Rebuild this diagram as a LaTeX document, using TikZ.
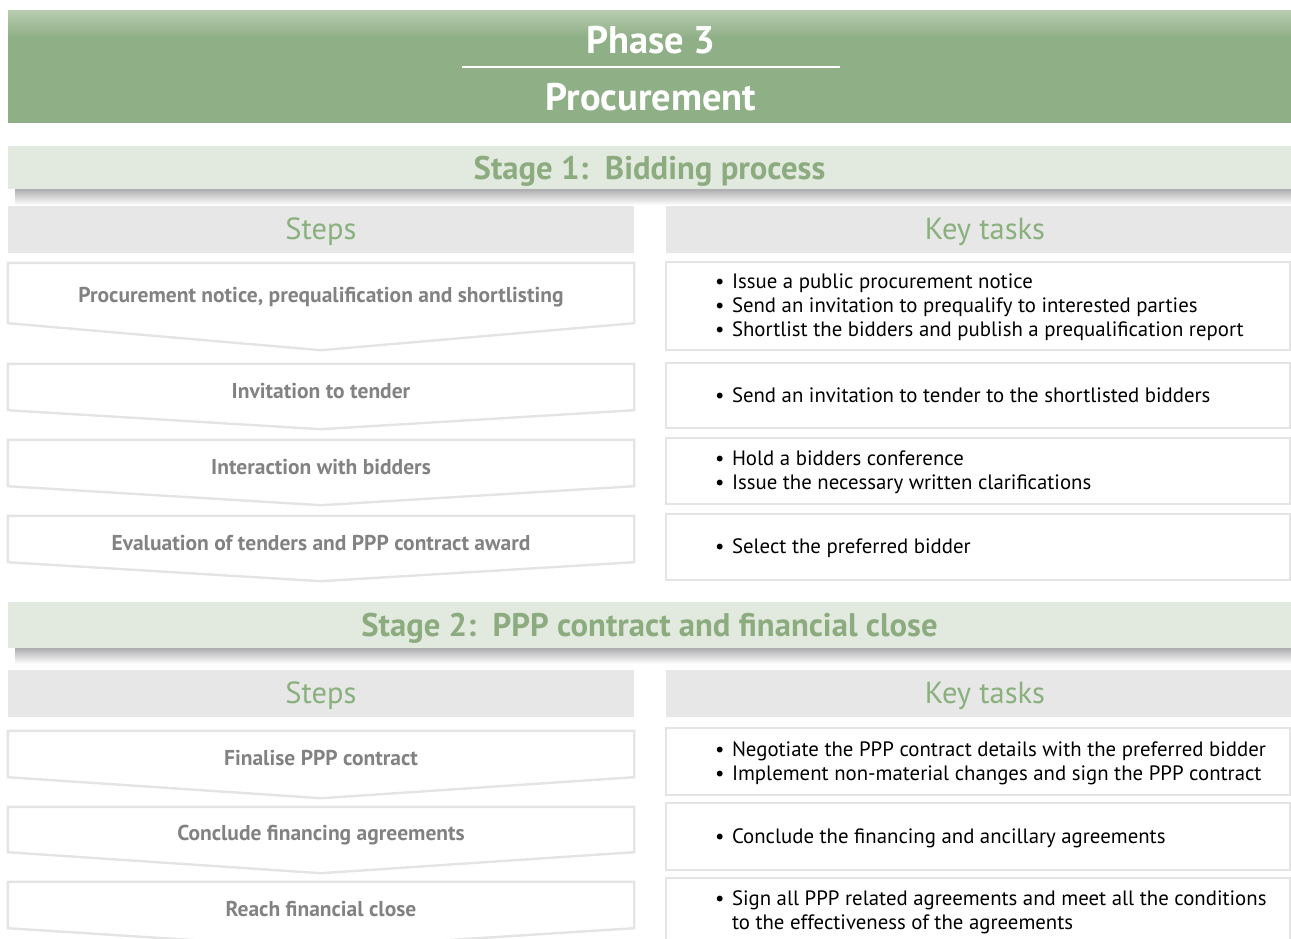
\documentclass[tikz,border=0pt]{standalone}
\usepackage{fontspec}
\setmainfont{PT Sans}
\usetikzlibrary{calc}

\definecolor{phasegreen}{RGB}{143,175,134}
\definecolor{phaselight}{RGB}{184,204,176}
\definecolor{stagefill}{RGB}{226,234,223}
\definecolor{stagetext}{RGB}{140,172,128}
\definecolor{headfill}{RGB}{231,231,231}
\definecolor{headtext}{RGB}{137,176,125}
\definecolor{steptext}{RGB}{130,130,130}
\definecolor{boxline}{RGB}{228,228,228}
\definecolor{shadowgray}{RGB}{168,168,170}

\newcommand\itm{\makebox[17pt][l]{\textbullet}}

\begin{document}
\begin{tikzpicture}[x=1pt, y=-1pt,
    phasetext/.style={text=white, font=\fontsize{38.5}{44}\selectfont\bfseries},
    stageband/.style={fill=stagefill, minimum width=1283pt, minimum height=43pt,
      text height=27pt, text depth=3pt,
      text=stagetext, font=\fontsize{32.7}{38}\selectfont\bfseries},
    colhead/.style={fill=headfill, minimum width=626pt, minimum height=47pt,
      text height=22pt, text depth=3pt,
      text=headtext, font=\fontsize{30.5}{36}\selectfont},
    stepbox/.style={minimum width=626pt, text=steptext,
      text height=26pt, text depth=4pt,
      font=\fontsize{21.5}{26}\selectfont\bfseries},
    stepline/.style={draw=boxline, line width=2.4pt, line join=miter},
    taskbox/.style={draw=boxline, line width=2.4pt, minimum width=624pt},
    tasktext/.style={anchor=west, xshift=50pt, yshift=-2pt, align=left, inner sep=0pt,
      text depth=5pt, font=\fontsize{20.8}{24}\selectfont}]

  \useasboundingbox (0,0) rectangle (1291,938);

  % phase header
  \shade[top color=phaselight, bottom color=phasegreen] (8,10) rectangle (1291,38);
  \fill[phasegreen] (8,37) rectangle (1291,123);
  \node[phasetext] (phase) at (651,40) {Phase 3};
  \node[phasetext] (proc) at (651,97) {Procurement};
  \draw[white, line width=1.3pt] (462,67) -- (840,67);

  % stage 1
  \shade[top color=shadowgray, bottom color=white] (15,188) rectangle (1291,205);
  \node[stageband] (stage1) at (649.5,167.5) {Stage 1:\ \ Bidding process};
  \node[colhead] (steps1) at (321,229.5) {Steps};
  \node[colhead] (tasks1) at (978.5,229.5) {\hspace*{13pt}Key tasks};

  % steps
  \node[stepbox, minimum height=60pt, text height=22pt] (s1) at (321,293)
    {Procurement notice, prequalification and shortlisting};
  \node[stepbox, minimum height=46pt] (s2) at (321,387) {Invitation to tender};
  \node[stepbox, minimum height=46pt] (s3) at (321,463) {Interaction with bidders};
  \node[stepbox, minimum height=46pt] (s4) at (321,539)
    {Evaluation of tenders and PPP contract award};
  \draw[stepline] (s1.north west) -- (s1.north east) -- (s1.south east)
    -- ($(s1.south)+(0,27)$) -- (s1.south west) -- cycle;
  \draw[stepline] (s2.north west) -- (s2.north east) -- (s2.south east)
    -- ($(s2.south)+(0,19)$) -- (s2.south west) -- cycle;
  \draw[stepline] (s3.north west) -- (s3.north east) -- (s3.south east)
    -- ($(s3.south)+(0,19)$) -- (s3.south west) -- cycle;
  \draw[stepline] (s4.north west) -- (s4.north east) -- (s4.south east)
    -- ($(s4.south)+(0,19)$) -- (s4.south west) -- cycle;

  % key tasks
  \node[taskbox, minimum height=88pt] (k1) at (978,306) {};
  \node[taskbox, minimum height=65pt] (k2) at (978,395.5) {};
  \node[taskbox, minimum height=66pt] (k3) at (978,471) {};
  \node[taskbox, minimum height=66pt] (k4) at (978,547) {};
  \node[tasktext] (t1) at (k1.west) {\itm Issue a public procurement notice\\
    \itm Send an invitation to prequalify to interested parties\\
    \itm Shortlist the bidders and publish a prequalification report};
  \node[tasktext] (t2) at (k2.west)
    {\itm Send an invitation to tender to the shortlisted bidders};
  \node[tasktext] (t3) at (k3.west) {\itm Hold a bidders conference\\
    \itm Issue the necessary written clarifications};
  \node[tasktext] (t4) at (k4.west) {\itm Select the preferred bidder};

  % stage 2
  \shade[top color=shadowgray, bottom color=white] (15,647) rectangle (1291,664);
  \node[stageband, minimum height=46pt] (stage2) at (649.5,624.5)
    {Stage 2:\ \ PPP contract and financial close};
  \node[colhead] (steps2) at (321,693.5) {Steps};
  \node[colhead] (tasks2) at (978.5,693.5) {\hspace*{13pt}Key tasks};

  % steps
  \node[stepbox, minimum height=46pt] (s5) at (321,754) {Finalise PPP contract};
  \node[stepbox, minimum height=45pt] (s6) at (321,829.5) {Conclude financing agreements};
  \node[stepbox, minimum height=46pt] (s7) at (321,905) {Reach financial close};
  \draw[stepline] (s5.north west) -- (s5.north east) -- (s5.south east)
    -- ($(s5.south)+(0,21)$) -- (s5.south west) -- cycle;
  \draw[stepline] (s6.north west) -- (s6.north east) -- (s6.south east)
    -- ($(s6.south)+(0,21)$) -- (s6.south west) -- cycle;
  \draw[stepline] (s7.north west) -- (s7.north east) -- (s7.south east)
    -- ($(s7.south)+(0,20)$) -- (s7.south west) -- cycle;

  % key tasks
  \node[taskbox, minimum height=67pt] (k5) at (978,761.5) {};
  \node[taskbox, minimum height=67pt] (k6) at (978,836.5) {};
  \node[taskbox, minimum height=66pt] (k7) at (978,911) {};
  \node[tasktext] (t5) at (k5.west)
    {\itm Negotiate the PPP contract details with the preferred bidder\\
    \itm Implement non-material changes and sign the PPP contract};
  \node[tasktext] (t6) at (k6.west)
    {\itm Conclude the financing and ancillary agreements};
  \node[tasktext] (t7) at (k7.west)
    {\itm Sign all PPP related agreements and meet all the conditions\\
    \hspace*{17pt}to the effectiveness of the agreements};

\end{tikzpicture}
\end{document}
